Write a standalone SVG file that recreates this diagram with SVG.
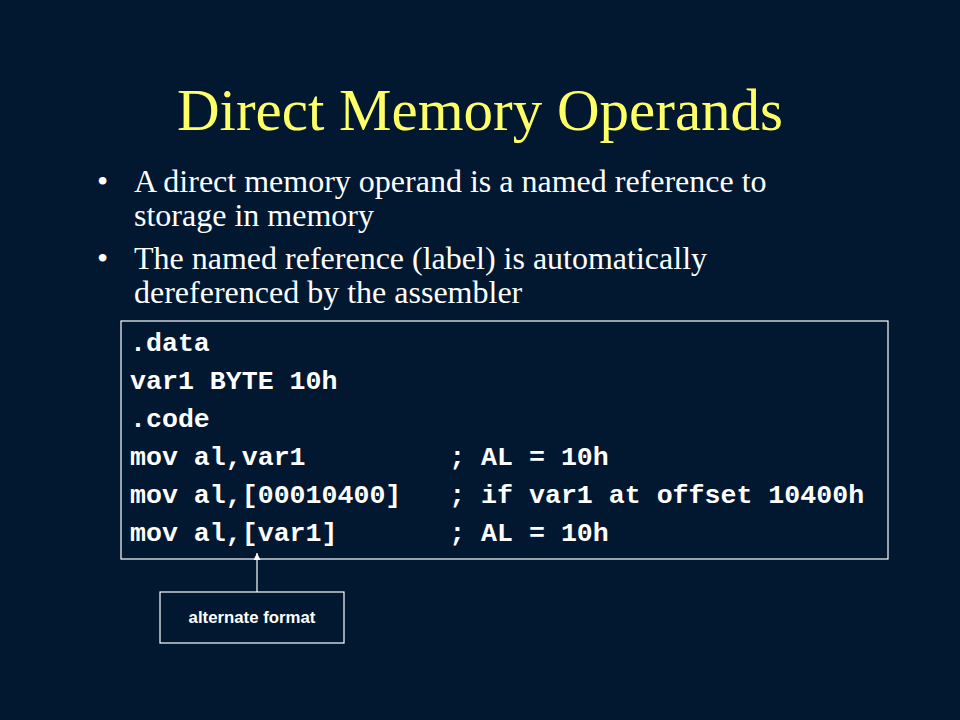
<svg xmlns="http://www.w3.org/2000/svg" width="960" height="720" viewBox="0 0 960 720">
  <style>
    .title { font-family: "Liberation Serif", "Times New Roman", serif; font-size: 59px; fill: #FFFF66; }
    .bullet { font-family: "Liberation Serif", "Times New Roman", serif; font-size: 32px; fill: #FFFFFF; }
    .code { font-family: "Liberation Mono", "Courier New", monospace; font-size: 26.6px; font-weight: bold; fill: #FFFFFF; white-space: pre; }
    .label { font-family: "Liberation Sans", Arial, sans-serif; font-size: 16.8px; font-weight: bold; fill: #FFFFFF; }
    .box { fill: none; stroke: #FFFFFF; stroke-width: 1.2; }
  </style>
  <defs>
    <marker id="arrow" viewBox="0 0 10 10" refX="10" refY="5" markerWidth="6" markerHeight="7" orient="auto">
      <path d="M0,0 L10,5 L0,10 z" fill="#FFFFFF"/>
    </marker>
  </defs>
  <rect x="0" y="0" width="960" height="720" fill="#011830"/>
  <g id="title">
    <text class="title" x="480" y="130" text-anchor="middle">Direct Memory Operands</text>
  </g>
  <g id="bullets">
    <text class="bullet" x="97" y="192">•</text>
    <text class="bullet" x="134" y="192">A direct memory operand is a named reference to</text>
    <text class="bullet" x="134" y="226">storage in memory</text>
    <text class="bullet" x="97" y="269">•</text>
    <text class="bullet" x="134" y="269">The named reference (label) is automatically</text>
    <text class="bullet" x="134" y="303">dereferenced by the assembler</text>
  </g>
  <g id="code-box">
    <rect class="box" x="121" y="321" width="767" height="238"/>
    <text class="code" x="130" y="351">.data</text>
    <text class="code" x="130" y="389">var1 BYTE 10h</text>
    <text class="code" x="130" y="427">.code</text>
    <text class="code" x="130" y="465">mov al,var1         ; AL = 10h</text>
    <text class="code" x="130" y="503">mov al,[00010400]   ; if var1 at offset 10400h</text>
    <text class="code" x="130" y="541">mov al,[var1]       ; AL = 10h</text>
  </g>
  <g id="label-box">
    <rect class="box" x="160" y="592" width="184" height="51"/>
    <text class="label" x="252" y="623" text-anchor="middle">alternate format</text>
  </g>
  <g id="connectors">
    <line x1="257" y1="592" x2="257" y2="553" stroke="#FFFFFF" stroke-width="1.2" marker-end="url(#arrow)"/>
  </g>
</svg>
